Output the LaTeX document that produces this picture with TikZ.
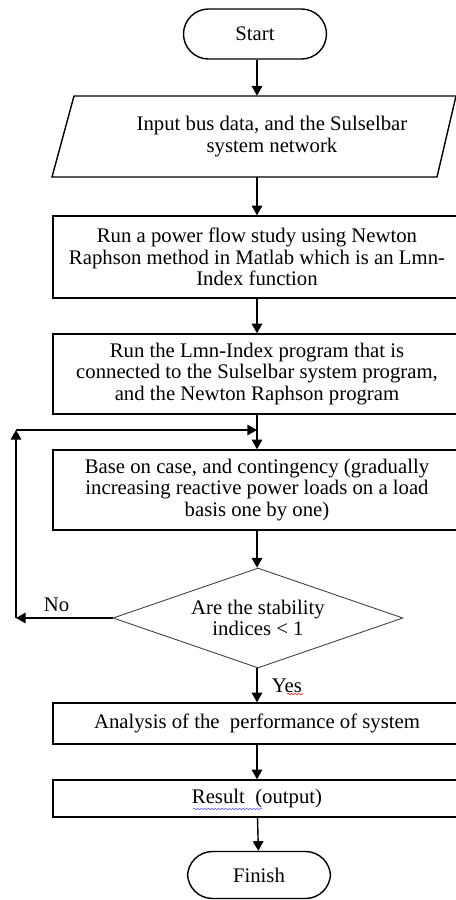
\documentclass[tikz,border=0pt]{standalone}
\usepackage{fontspec}
\setmainfont{Liberation Serif}
\usetikzlibrary{arrows.meta,shapes.geometric,decorations.pathmorphing}

\begin{document}
\begin{tikzpicture}[x=0.02cm,y=-0.02cm,
    font=\fontsize{11.8}{12.3}\selectfont,
    arr/.style={line width=0.8pt,-{Triangle[length=5.5pt,width=6pt]}},
    proc/.style={draw,line width=0.8pt,align=center,minimum width=8.16cm,inner sep=2pt},
    term/.style={draw,line width=0.8pt,rounded corners=0.5cm,minimum width=2.86cm,minimum height=1cm},
    decide/.style={diamond,draw=black!75,line width=0.5pt,align=center,aspect=2.9,minimum width=5.8cm,minimum height=2cm,inner sep=0pt},
    squiggle/.style={decorate,decoration={snake,amplitude=0.4pt,segment length=2pt},line width=0.3pt}]
    \useasboundingbox (0,0) rectangle (456,900);
    \node[term] (start) at (255,34) {Start};
    \draw[line width=0.8pt] (74,96) -- (456,96) -- (437,177) -- (52,177) -- cycle;
    \node[align=center,minimum height=1.62cm,inner sep=0pt] (inp) at (272,136.5) {Input bus data, and the Sulselbar\\system network};
    \node[proc,minimum height=1.64cm] (pf) at (257,257) {Run a power flow study using Newton\\Raphson method in Matlab which is an Lmn-\\Index function};
    \node[proc,minimum height=1.6cm] (lmn) at (257,374) {Run the Lmn-Index program that is\\connected to the Sulselbar system program,\\and the Newton Raphson program};
    \node[proc,minimum height=1.6cm] (case) at (257,490) {Base on case, and contingency (gradually\\increasing reactive power loads on a load\\basis one by one)};
    \node[decide] (stab) at (258,618) {Are the stability\\indices < 1};
    \node[proc,minimum height=0.82cm] (anal) at (257,723.5) {Analysis of the \ performance of system};
    \node[proc,minimum height=0.74cm] (res) at (257,798.5) {Result \ (output)};
    \node[term,minimum height=0.94cm] (fin) at (259,875) {Finish};
    \coordinate (loopL) at (16,618);
    \coordinate (loopT) at (16,430);
    \coordinate (loopR) at (257,430);
    \draw[arr] (start.south -| pf.north) -- (inp.north -| pf.north);
    \draw[arr] (inp.south -| pf.north) -- (pf.north);
    \draw[arr] (pf) -- (lmn);
    \draw[arr] (lmn) -- (case);
    \draw[arr] (case.south) -- (case.south |- stab.north);
    \draw[arr] (stab.west) -- (loopL) node[pos=0.58,above]{No};
    \draw[arr] (loopL) -- (loopT);
    \draw[arr] (loopT) -- (loopR);
    \draw[arr] (stab.south -| anal.north) -- (anal.north) node[pos=0.5,right,inner sep=8pt]{Yes};
    \draw[squiggle,red] (287,694) -- (303,694);
    \draw[arr] (anal) -- (res);
    \draw[arr] (res) -- (fin);
    \draw[squiggle,blue!70] (193,809) -- (262,809);
\end{tikzpicture}
\end{document}
